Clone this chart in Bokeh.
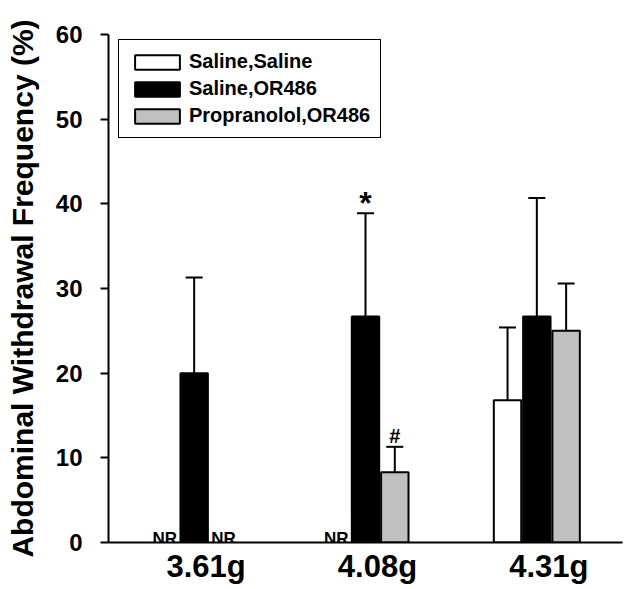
import math
from bokeh.plotting import figure
from bokeh.models import (ColumnDataSource, Whisker, TeeHead, Legend, LegendItem,
                          FixedTicker, Range1d)
from bokeh.core.properties import value
from bokeh.embed import file_html
from bokeh.resources import INLINE

# ---------------- data ----------------
categories = ["3.61g", "4.08g", "4.31g"]
series_names = ["Saline,Saline", "Saline,OR486", "Propranolol,OR486"]
saline_saline_mean = [None, None, 16.8]
saline_saline_sem = [None, None, 8.6]
saline_or486_mean = [20.0, 26.7, 26.7]
saline_or486_sem = [11.3, 12.2, 14.0]
propranolol_or486_mean = [None, 8.3, 25.0]
propranolol_or486_sem = [None, 3.0, 5.6]
y_ticks = [0, 10, 20, 30, 40, 50, 60]
# (category, series index, mark)
significance_marks = [("4.08g", 1, "*"), ("4.08g", 2, "#")]
no_response_label = "NR"

# ---------------- style ----------------
FONT = "Liberation Sans"
fills = ["white", "black", "#c0c0c0"]
BAR_W = 0.16
DODGE = 0.171
LABEL_SHIFT = 0.07
mark_styles = {"*": ("32px", -10), "#": ("20px", -11)}

means = [saline_saline_mean, saline_or486_mean, propranolol_or486_mean]
sems = [saline_saline_sem, saline_or486_sem, propranolol_or486_sem]

p = figure(width=628, height=588, x_range=Range1d(0.5, 3.5), y_range=Range1d(0, 60),
           output_backend="svg", toolbar_location=None,
           min_border_left=108, min_border_right=6, min_border_top=34, min_border_bottom=46)
p.xgrid.visible = False
p.ygrid.visible = False
p.outline_line_color = None

def xpos(ci, si):
    return ci + 1 + (si - 1) * DODGE

legend_items = []
nr_x = []
for si, name in enumerate(series_names):
    xs, tops, ups, los = [], [], [], []
    for ci, cat in enumerate(categories):
        m = means[si][ci]
        if m is None:
            nr_x.append(xpos(ci, si))
            continue
        xs.append(xpos(ci, si))
        tops.append(m)
        los.append(m)
        ups.append(m + sems[si][ci])
    src = ColumnDataSource(dict(x=xs, top=tops, upper=ups, lower=los))
    w = Whisker(source=src, base="x", upper="upper", lower="lower", dimension="height",
                line_width=2, line_color="black",
                upper_head=TeeHead(size=17, line_width=2, line_color="black"), lower_head=None)
    p.add_layout(w)
    r = p.vbar(x="x", top="top", bottom=0, width=BAR_W, source=src,
               fill_color=fills[si], line_color="black", line_width=2)
    legend_items.append(LegendItem(label=name, renderers=[r]))

# NR labels
p.text(x=nr_x, y=[0] * len(nr_x), text=[no_response_label] * len(nr_x),
       text_font=value(FONT), text_font_style="bold", text_font_size="17px",
       text_align="center", text_baseline="alphabetic", y_offset=-4, text_color="black")

# significance marks
for cat, si, mark in significance_marks:
    ci = categories.index(cat)
    top = means[si][ci] + sems[si][ci]
    size, off = mark_styles[mark]
    p.text(x=[xpos(ci, si)], y=[top], text=[mark], text_font=value(FONT),
           text_font_style="bold", text_font_size=size, text_align="center",
           text_baseline="alphabetic", y_offset=off, text_color="black")

legend = Legend(items=legend_items, location=(10, 404), orientation="vertical",
                label_text_font=FONT, label_text_font_style="bold", label_text_font_size="20px",
                label_text_color="black",
                glyph_width=56, glyph_height=18, label_standoff=4, padding=10, spacing=4,
                border_line_color="black", border_line_width=1.5, border_line_alpha=1,
                background_fill_color="white", background_fill_alpha=1,
                margin=0)
p.add_layout(legend)

# axes
ticks = [ci + 1 + LABEL_SHIFT for ci in range(len(categories))]
p.xaxis.ticker = FixedTicker(ticks=ticks)
p.xaxis.major_label_overrides = {t: c for t, c in zip(ticks, categories)}
p.xaxis.major_tick_out = 0
p.xaxis.major_tick_in = 0
p.xaxis.minor_tick_out = 0
p.xaxis.minor_tick_in = 0
p.xaxis.axis_line_width = 2
p.xaxis.axis_line_color = "black"
p.xaxis.major_label_text_font = FONT
p.xaxis.major_label_text_font_style = "bold"
p.xaxis.major_label_text_font_size = "31px"
p.xaxis.major_label_text_color = "black"
p.xaxis.major_label_standoff = 6

p.yaxis.ticker = FixedTicker(ticks=y_ticks)
p.yaxis.major_tick_out = 8
p.yaxis.major_tick_in = 0
p.yaxis.major_tick_line_width = 2
p.yaxis.major_tick_line_color = "black"
p.yaxis.minor_tick_out = 0
p.yaxis.minor_tick_in = 0
p.yaxis.axis_line_width = 2
p.yaxis.axis_line_color = "black"
p.yaxis.major_label_text_font = FONT
p.yaxis.major_label_text_font_style = "bold"
p.yaxis.major_label_text_font_size = "24px"
p.yaxis.major_label_text_color = "black"
p.yaxis.major_label_standoff = 18
p.yaxis.axis_label = "Abdominal Withdrawal Frequency (%)"
p.yaxis.axis_label_text_font = FONT
p.yaxis.axis_label_text_font_style = "bold"
p.yaxis.axis_label_text_font_size = "30px"
p.yaxis.axis_label_text_color = "black"
p.yaxis.axis_label_standoff = 14

open("out.html", "w").write(file_html(p, INLINE))
